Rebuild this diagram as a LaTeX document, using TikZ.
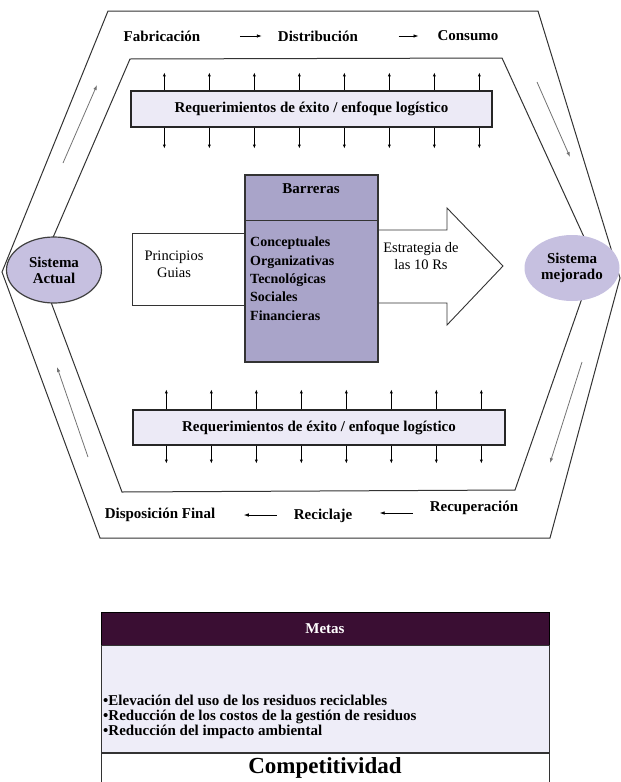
\documentclass[tikz,border=0pt]{standalone}
\usepackage{fontspec}
\setmainfont{Liberation Serif}
\usetikzlibrary{arrows.meta,shapes.geometric}
\definecolor{reqfill}{HTML}{ECEAF6}
\definecolor{barfill}{HTML}{A9A4C9}
\definecolor{sisfill}{HTML}{C6C0E0}
\definecolor{metasdark}{HTML}{3A0E33}
\definecolor{metasfill}{HTML}{EEEDF8}
\begin{document}
\begin{tikzpicture}[x=1pt,y=-1pt,
  every node/.style={font=\bfseries\fontsize{15}{16}\selectfont},
  ring/.style={draw=black!80,line width=1pt},
  ringarrow/.style={draw=black!55,line width=0.8pt,-{Latex[length=5pt,width=3.5pt]}},
  flow/.style={line width=0.8pt,-{Latex[length=5pt,width=3.5pt]}},
  tick/.style={line width=0.8pt,-{Latex[length=4pt,width=3pt]}},
  reqbox/.style={draw=black!85,line width=1.3pt,fill=reqfill,inner sep=0},
  sis/.style={ellipse,fill=sisfill,minimum width=95,minimum height=66,inner sep=0,align=center},
  plain/.style={font=\fontsize{14.5}{17}\selectfont,align=center}]
\useasboundingbox (0,0) rectangle (621,782);
\draw[ring] (108,11) -- (538,11) -- (620,278) -- (550,538) -- (100,538) -- (2,272) -- cycle;
\draw[ring] (130,59) -- (502,58) -- (595,261) -- (515,490) -- (122,492) -- (39,270) -- cycle;
\node[sis,draw=black!75,line width=1.2pt] (actual) at (54,270) {Sistema\\Actual};
\node[sis] (mejor) at (572,268) {Sistema\\mejorado};
\coordinate (ul1) at (63,163); \coordinate (ul2) at (97,85);
\coordinate (ur1) at (537,82); \coordinate (ur2) at (570,157);
\coordinate (lr1) at (582,362); \coordinate (lr2) at (550,463);
\coordinate (ll1) at (88,457); \coordinate (ll2) at (57,367);
\draw[ringarrow] (ul1) -- (ul2);
\draw[ringarrow] (ur1) -- (ur2);
\draw[ringarrow] (lr1) -- (lr2);
\draw[ringarrow] (ll1) -- (ll2);
\node (fab) at (162,36) {Fabricación};
\node (dis) at (318,36) {Distribución};
\node (con) at (468,36) {Consumo};
\draw[flow] (fab.east) ++(36,0) -- ++(22,0);
\draw[flow] (dis.east) ++(37,0) -- ++(20,0);
\node (disp) at (160,515) {Disposición Final};
\node (recic) at (323,516) {Reciclaje};
\node (recup) at (474,508) {Recuperación};
\draw[flow] (disp.east) ++(58,0) -- ++(-33,0);
\draw[flow] (recic.east) ++(57,-3) -- ++(-33,0);
\node[reqbox,minimum width=361,minimum height=36] (reqtop) at (311.5,109) {Requerimientos de éxito / enfoque logístico};
\node[reqbox,minimum width=372,minimum height=35] (reqbot) at (319,427.5) {Requerimientos de éxito / enfoque logístico};
\foreach \i in {0,...,7} {
  \draw[tick] ([xshift=34+45*\i]reqtop.north west) -- ++(0,-18);
  \draw[tick] ([xshift=34+45*\i]reqtop.south west) -- ++(0,21);
  \draw[tick] ([xshift=34+45*\i]reqbot.north west) -- ++(0,-20);
  \draw[tick] ([xshift=34+45*\i]reqbot.south west) -- ++(0,18);
}
\node[draw=black!80,line width=0.9pt,minimum width=113,minimum height=72] (princ) at (188.5,269) {};
\node[plain] (princtxt) at (174,264) {Principios\\Guias};
\draw[line width=0.9pt,draw=black!80] (378,230) -- (447,230) -- (447,208) -- (503,266) -- (447,325) -- (447,303) -- (378,303);
\node[plain] (estr) at (421,256) {Estrategia de\\las 10 Rs};
\node[draw=black!80,line width=1.1pt,fill=barfill,minimum width=133,minimum height=187] (bar) at (311.5,268.5) {};
\draw[line width=1.1pt,draw=black!80] ([yshift=-46]bar.north west) -- ([yshift=-46]bar.north east);
\node (bartit) at (311,189) {Barreras};
\node[align=left,anchor=north west,inner sep=0,font=\bfseries\fontsize{14}{18.3}\selectfont] (barlist) at (250,237) {Conceptuales\\Organizativas\\Tecnológicas\\Sociales\\Financieras};
\node[draw=black,line width=0.9pt,fill=metasdark,text=white,minimum width=448,minimum height=33,inner sep=0] (metas) at (325,628.5) {Metas};
\node[draw=black!80,line width=0.9pt,fill=metasfill,minimum width=448,minimum height=107,anchor=north] (metasbody) at (metas.south) {};
\node[align=left,anchor=west,inner sep=0,font=\bfseries\fontsize{15}{15}\selectfont] (goals) at (103,717) {\textbullet Elevación del uso de los residuos reciclables\\\textbullet Reducción de los costos de la gestión de residuos\\\textbullet Reducción del impacto ambiental};
\node[draw=black!80,line width=0.9pt,fill=white,minimum width=448,minimum height=29,inner sep=0,anchor=north,font=\bfseries\fontsize{23}{24}\selectfont] (compet) at (metasbody.south) {Competitividad};
\end{tikzpicture}
\end{document}
